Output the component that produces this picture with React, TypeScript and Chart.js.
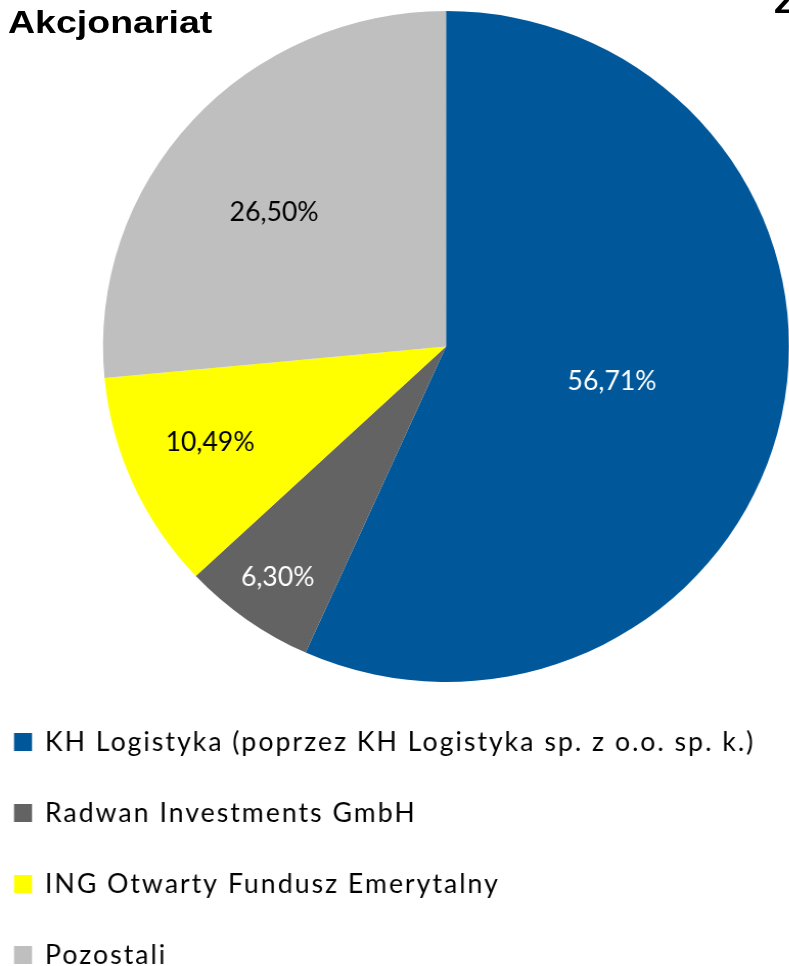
import React, { useEffect, useRef } from "react";
import { Chart, registerables } from "chart.js";

Chart.register(...registerables);

// ---- data ----
const categories = [
  "KH Logistyka (poprzez KH Logistyka sp. z o.o. sp. k.)",
  "Radwan Investments GmbH",
  "ING Otwarty Fundusz Emerytalny",
  "Pozostali",
];
const shares = [56.71, 6.3, 10.49, 26.5];
const valueLabels = ["56,71%", "6,30%", "10,49%", "26,50%"];

// ---- styles ----
const sliceColors = ["#00589B", "#636363", "#FFFF00", "#BFBFBF"];
const labelColors = ["#FFFFFF", "#FFFFFF", "#000000", "#000000"];
const labelRadiusFrac = [0.495, 0.845, 0.745, 0.64];
const labelAnglePos = [0.5, 0.5, 0.545, 0.46];

const STRETCH = 1.0224;
const CANVAS_W = 772;
const CANVAS_H = 966;
const FONT = "Lato, 'Noto Sans', sans-serif";

const valueLabelPlugin = {
  id: "valueLabels",
  afterDatasetsDraw(chart: any) {
    const ctx = chart.ctx;
    const meta = chart.getDatasetMeta(0);
    ctx.save();
    ctx.font = `26px ${FONT}`;
    ctx.textAlign = "center";
    ctx.textBaseline = "middle";
    meta.data.forEach((arc: any, i: number) => {
      const p = arc.getProps(["x", "y", "startAngle", "endAngle", "outerRadius"], true);
      const a = p.startAngle + (p.endAngle - p.startAngle) * labelAnglePos[i];
      const r = p.outerRadius * labelRadiusFrac[i];
      ctx.fillStyle = labelColors[i];
      ctx.fillText(valueLabels[i], p.x + Math.cos(a) * r, p.y + Math.sin(a) * r);
    });
    ctx.restore();
  },
};

const legendPlugin = {
  id: "stackedLegend",
  afterDraw(chart: any) {
    const ctx = chart.ctx;
    const labels = chart.data.labels as string[];
    const colors = chart.data.datasets[0].backgroundColor as string[];
    const top = 742;
    const gap = 71;
    ctx.save();
    ctx.font = `26px ${FONT}`;
    ctx.textAlign = "left";
    ctx.textBaseline = "alphabetic";
    try {
      (ctx as any).letterSpacing = "2px";
    } catch (e) {}
    labels.forEach((lab, i) => {
      const cy = top + gap * i;
      ctx.fillStyle = colors[i];
      ctx.fillRect(13.7, cy - 9, 17.6, 18);
      ctx.fillStyle = "#000000";
      ctx.fillText(lab, 44, cy + 9);
    });
    ctx.restore();
  },
};

export default function App() {
  const ref = useRef<HTMLCanvasElement>(null);

  useEffect(() => {
    if (!ref.current) return;
    const cx = 446 / STRETCH;
    const r = 335.5;
    const chart = new Chart(ref.current, {
      type: "pie",
      data: {
        labels: categories,
        datasets: [
          {
            data: shares,
            backgroundColor: sliceColors,
            borderWidth: 0,
          },
        ],
      },
      options: {
        responsive: false,
        animation: false,
        layout: {
          padding: {
            left: cx - r,
            right: CANVAS_W - (cx + r),
            top: 11,
            bottom: CANVAS_H - 682,
          },
        },
        plugins: {
          legend: { display: false },
          tooltip: { enabled: false },
          title: { display: false },
        },
      },
      plugins: [valueLabelPlugin, legendPlugin],
    });
    return () => chart.destroy();
  }, []);

  const titleStyle: React.CSSProperties = {
    position: "absolute",
    font: "bold 31px 'Liberation Sans', Arial, sans-serif",
    lineHeight: "31px",
    transform: "scaleX(1.21)",
    transformOrigin: "0 0",
    whiteSpace: "nowrap",
    color: "#000",
  };

  return (
    <div
      style={{
        position: "fixed",
        left: 0,
        top: 0,
        width: 789,
        height: 966,
        overflow: "hidden",
        background: "#fff",
      }}
    >
      <canvas
        ref={ref}
        width={CANVAS_W}
        height={CANVAS_H}
        style={{
          position: "absolute",
          left: 0,
          top: 0,
          transform: `scaleX(${STRETCH})`,
          transformOrigin: "0 0",
        }}
      />
      <div style={{ ...titleStyle, left: 8, top: 7 }}>Akcjonariat</div>
      <div style={{ ...titleStyle, left: 774, top: -13 }}>Z</div>
    </div>
  );
}
